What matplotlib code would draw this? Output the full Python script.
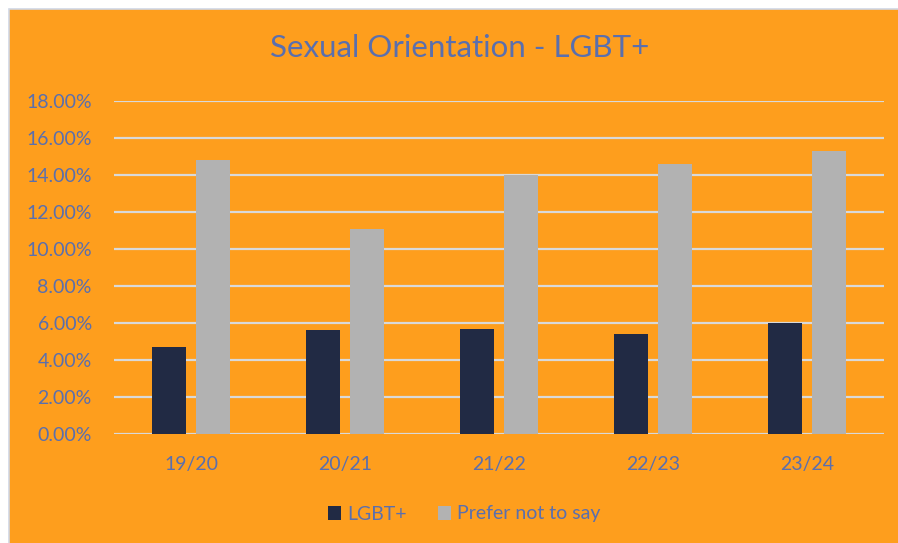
import matplotlib.pyplot as plt
from matplotlib.patches import Rectangle
from matplotlib.ticker import FuncFormatter
import numpy as np

years = ['19/20', '20/21', '21/22', '22/23', '23/24']
lgbt = [4.7, 5.6, 5.7, 5.4, 6.0]
prefer_not = [14.8, 11.1, 14.0, 14.6, 15.3]

ORANGE = '#FE9E1D'
TEXT = '#5A6FAE'
NAVY = '#212A44'
GREY = '#B2B2B2'

plt.rcParams['font.family'] = ['Lato', 'DejaVu Sans']

fig = plt.figure(figsize=(8.98, 5.43), dpi=100)
fig.patch.set_facecolor('white')
# orange chart area with a thin border on the left/top only (rest runs off the image)
fig.patches.append(Rectangle((9 / 898, -0.1), 1.1, 1.1 - 9 / 543, transform=fig.transFigure,
                             facecolor=ORANGE, edgecolor='#D0D7E5', linewidth=1.2, zorder=-10))

ax = fig.add_axes([114 / 898, 1 - 434 / 543, 770 / 898, 333 / 543])
ax.set_facecolor('none')
ax.set_zorder(5)

x = np.arange(len(years))
w = 0.22
ax.bar(x - 0.143, lgbt, w, color=NAVY, label='LGBT+', zorder=3)
ax.bar(x + 0.143, prefer_not, w, color=GREY, label='Prefer not to say', zorder=3)

ax.set_xlim(-0.5, len(years) - 0.5)
ax.set_ylim(0, 18)
ax.set_yticks(np.arange(0, 18.1, 2))
ax.yaxis.set_major_formatter(FuncFormatter(lambda v, p: '{:.2f}%'.format(v)))
ax.set_xticks(x)
ax.set_xticklabels(years)
ax.grid(axis='y', color='#D9D9D9', linewidth=1.6, zorder=1)
ax.set_axisbelow(True)
for s in ax.spines.values():
  s.set_visible(False)
ax.tick_params(axis='both', length=0, labelsize=14, labelcolor=TEXT)
ax.tick_params(axis='y', pad=16)
ax.tick_params(axis='x', pad=16)

fig.text(460 / 898, 1 - 48 / 543, 'Sexual Orientation - LGBT+', ha='center', va='center',
         fontsize=22.5, color=TEXT)

leg = fig.legend(loc='center', bbox_to_anchor=(464 / 898, 1 - 514 / 543), ncol=2,
                 frameon=False, fontsize=14, handlelength=0.7, handleheight=0.7,
                 handletextpad=0.3, columnspacing=1.6)
for t in leg.get_texts():
  t.set_color(TEXT)

fig.savefig('out.png', dpi=100, facecolor=fig.get_facecolor())
